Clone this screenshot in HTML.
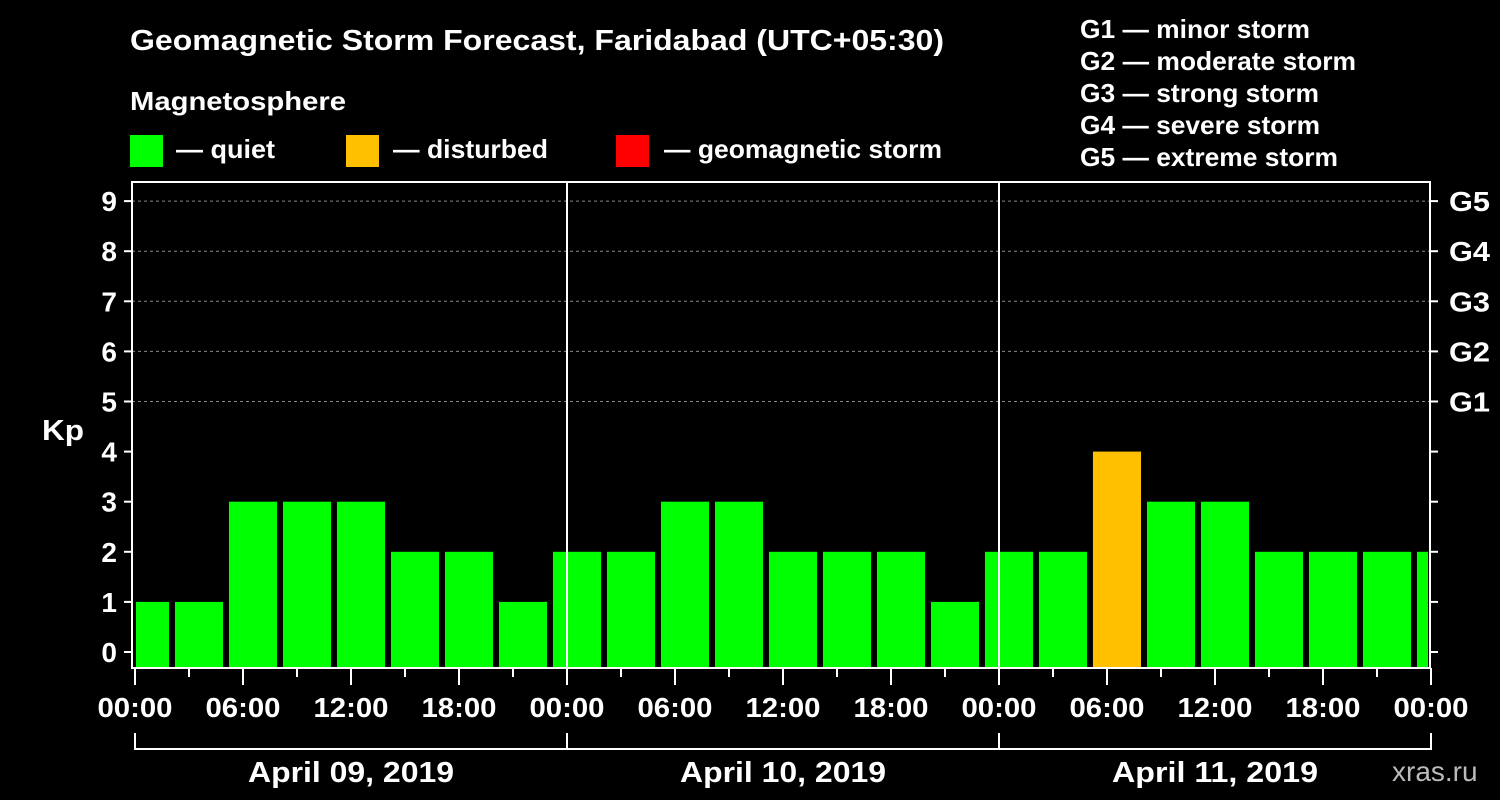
<!DOCTYPE html>
<html><head><meta charset="utf-8"><style>
body{margin:0;background:#000;width:1500px;height:800px;overflow:hidden}
svg{display:block}
text{font-family:"Liberation Sans",Arial,sans-serif;font-weight:bold;fill:#fff}
</style></head><body>
<svg id="chart" width="1500" height="800" viewBox="0 0 1500 800">
<text x="130" y="50" font-size="29" textLength="814" lengthAdjust="spacingAndGlyphs">Geomagnetic Storm Forecast, Faridabad (UTC+05:30)</text>
<text x="130" y="110" font-size="26" textLength="216" lengthAdjust="spacingAndGlyphs">Magnetosphere</text>
<rect x="130" y="135" width="33" height="32" fill="#00ff00"/>
<text x="176" y="158" font-size="26" textLength="99" lengthAdjust="spacingAndGlyphs">— quiet</text>
<rect x="346" y="135" width="33" height="32" fill="#ffc000"/>
<text x="393" y="158" font-size="26" textLength="155" lengthAdjust="spacingAndGlyphs">— disturbed</text>
<rect x="616" y="135" width="33" height="32" fill="#ff0000"/>
<text x="664" y="158" font-size="26" textLength="278" lengthAdjust="spacingAndGlyphs">— geomagnetic storm</text>
<g font-size="26">
<text x="1080" y="38" textLength="230" lengthAdjust="spacingAndGlyphs">G1 — minor storm</text>
<text x="1080" y="70" textLength="276" lengthAdjust="spacingAndGlyphs">G2 — moderate storm</text>
<text x="1080" y="102" textLength="239" lengthAdjust="spacingAndGlyphs">G3 — strong storm</text>
<text x="1080" y="134" textLength="240" lengthAdjust="spacingAndGlyphs">G4 — severe storm</text>
<text x="1080" y="166" textLength="258" lengthAdjust="spacingAndGlyphs">G5 — extreme storm</text>
</g>
<g id="plot"></g>
<text x="42" y="440" font-size="29" textLength="42" lengthAdjust="spacingAndGlyphs">Kp</text>
<text x="1392" y="781" font-size="28" style="fill:#bbb;font-weight:normal">xras.ru</text>
</svg>
<script>
const kpValues=[1,1,3,3,3,2,2,1,2,2,3,3,2,2,2,1,2,2,4,3,3,2,2,2,2];
const barStartHours=-0.78;
const dayLabels=["April 09, 2019","April 10, 2019","April 11, 2019"];
const timeLabels=["00:00","06:00","12:00","18:00"];
const gLabels=["G5","G4","G3","G2","G1"].reverse();
const NS="http://www.w3.org/2000/svg";
const g=document.getElementById('plot');
const X0=135,PXH=18,L=132,R=1430,T=182,B=668;
const xs=h=>X0+h*PXH;
const ys=k=>652-50.1*k;
function el(t,a,p){const e=document.createElementNS(NS,t);for(const k in a)e.setAttribute(k,a[k]);(p||g).appendChild(e);return e;}
for(let k=5;k<=9;k++){const l=el('line',{x1:L,x2:R,y1:ys(k),y2:ys(k),stroke:'#888','stroke-dasharray':'3,3','stroke-width':1});

}
const clip=el('clipPath',{id:'pc'});el('rect',{x:L+4,y:T,width:R-L-6,height:B-T},clip);
kpValues.forEach((v,i)=>{const h0=barStartHours+3*i;const x1=xs(h0),x2=xs(h0+2.67);
const c=v>=5?'#ff0000':v>=4?'#ffc000':'#00ff00';
const r=el('rect',{x:x1,y:ys(v),width:x2-x1,height:B-ys(v),fill:c,'clip-path':'url(#pc)'});

});
for(let d=1;d<3;d++){const l=el('line',{x1:xs(24*d),x2:xs(24*d),y1:T,y2:B,stroke:'#fff','stroke-width':2});

}
const f=el('rect',{x:L,y:T,width:R-L,height:B-T,fill:'none',stroke:'#fff','stroke-width':2});


for(let k=0;k<=9;k++){el('line',{x1:124,x2:L,y1:ys(k),y2:ys(k),stroke:'#fff','stroke-width':2});
el('line',{x1:R,x2:R+8,y1:ys(k),y2:ys(k),stroke:'#fff','stroke-width':2});
const t=el('text',{x:117,y:ys(k)+10,'font-size':28,'text-anchor':'end'});t.textContent=k;

}
gLabels.forEach((s,i)=>{const t=el('text',{x:1449,y:ys(5+i)+10,'font-size':28,textLength:41,lengthAdjust:'spacingAndGlyphs'});t.textContent=s;

});
for(let h=0;h<=72;h+=3){const maj=h%6==0;el('line',{x1:xs(h),x2:xs(h),y1:B,y2:maj?685:677,stroke:'#fff','stroke-width':2});
if(maj){const t=el('text',{x:xs(h),y:717,'font-size':28,'text-anchor':'middle',textLength:75,lengthAdjust:'spacingAndGlyphs'});t.textContent=timeLabels[(h/6)%4];

}}
el('line',{x1:xs(0),x2:xs(72),y1:749,y2:749,stroke:'#fff','stroke-width':2});
for(let d=0;d<=3;d++)el('line',{x1:xs(24*d),x2:xs(24*d),y1:733,y2:750,stroke:'#fff','stroke-width':2});
dayLabels.forEach((s,d)=>{const t=el('text',{x:xs(24*d+12),y:782,'font-size':29,'text-anchor':'middle',textLength:206,lengthAdjust:'spacingAndGlyphs'});t.textContent=s;

});
</script>
</body></html>
